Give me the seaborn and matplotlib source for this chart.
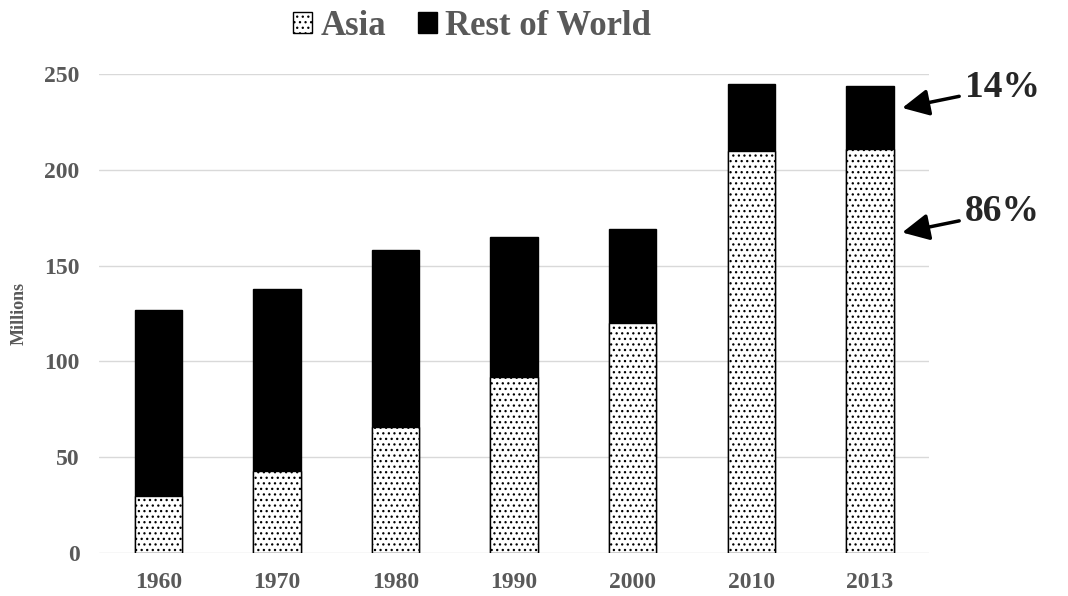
import numpy as np
import matplotlib
matplotlib.use("Agg")
import matplotlib.pyplot as plt
import seaborn as sns
import pandas as pd
from matplotlib.patches import Patch

# ---- data (millions) ----
years = ["1960", "1970", "1980", "1990", "2000", "2010", "2013"]
asia = [30, 43, 66, 92, 120, 210, 211]
rest_of_world = [97, 95, 92, 73, 49, 35, 33]

df = pd.DataFrame({"year": years, "asia": asia, "rest": rest_of_world})
df["total"] = df["asia"] + df["rest"]

sns.set_theme(style="white")
plt.rcParams["font.family"] = ["Liberation Serif", "DejaVu Serif"]
plt.rcParams["hatch.linewidth"] = 0.9

grey = "#595959"

fig = plt.figure(figsize=(10.68, 5.96), dpi=100)
ax = fig.add_axes([0.0927, 0.0721, 0.7773, 0.8037])

# totals in black, Asia drawn over it with dotted hatch
sns.barplot(data=df, x="year", y="total", color="black", width=0.4,
            edgecolor="black", linewidth=1, saturation=1, ax=ax)
sns.barplot(data=df, x="year", y="asia", color="white", width=0.4,
            edgecolor="black", linewidth=1, saturation=1, ax=ax)
for bar in ax.patches[len(years):]:
    bar.set_hatch("...")
    bar.set_facecolor("white")

ax.set_ylim(0, 250)
ax.set_xlim(-0.5, len(years) - 0.5)
ax.set_yticks(range(0, 251, 50))
ax.yaxis.grid(True, color="#d9d9d9", linewidth=1)
ax.set_axisbelow(True)
for s in ax.spines.values():
    s.set_visible(False)
ax.tick_params(axis="both", length=0, labelsize=17, labelcolor=grey)
ax.tick_params(axis="x", pad=14)
ax.tick_params(axis="y", pad=14)
for lab in ax.get_xticklabels() + ax.get_yticklabels():
    lab.set_fontweight("bold")
ax.set_xlabel("")
ax.set_ylabel("Millions", fontsize=13, fontweight="bold", color=grey, labelpad=12)

# legend
handles = [Patch(facecolor="white", edgecolor="black", hatch="...", label="Asia"),
           Patch(facecolor="black", edgecolor="black", label="Rest of World")]
leg = fig.legend(handles=handles, loc="center", bbox_to_anchor=(0.442, 0.956), ncol=2,
                 frameon=False, handlelength=0.55, handleheight=0.55, handletextpad=0.25,
                 columnspacing=0.9, prop={"size": 25, "weight": "bold"})
for t in leg.get_texts():
    t.set_color(grey)

# share annotations on the 2013 bar
arrow = dict(arrowstyle="-|>,head_length=0.6,head_width=0.3", color="black", lw=2.5)
ax.annotate("14%", xy=(6.25, 232), xytext=(7.12, 243), fontsize=27, fontweight="bold",
            ha="center", va="center", arrowprops=arrow, annotation_clip=False)
ax.annotate("86%", xy=(6.25, 167), xytext=(7.12, 178), fontsize=27, fontweight="bold",
            ha="center", va="center", arrowprops=arrow, annotation_clip=False)

fig.savefig("out.png", dpi=100)
